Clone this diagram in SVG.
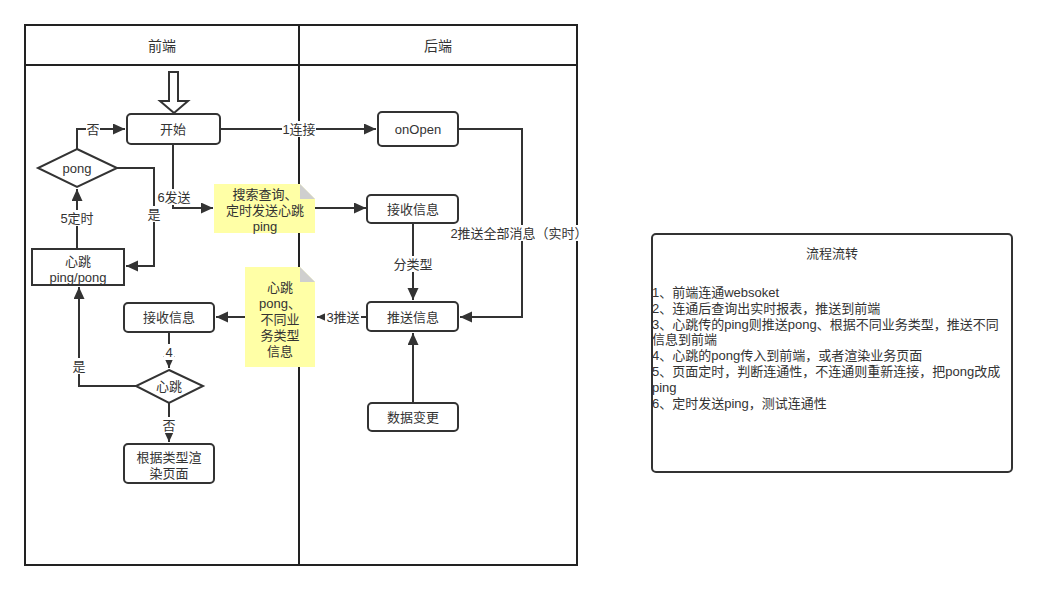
<svg xmlns="http://www.w3.org/2000/svg" width="1037" height="590" viewBox="0 0 1037 590">
<defs>
<style>
text{font-family:"Liberation Sans","Noto Sans CJK SC",sans-serif;font-size:13px;fill:#333;}
.c{text-anchor:middle;dominant-baseline:central;}
.node{fill:#fff;stroke:#333;stroke-width:2;}
.note{fill:#ffffa6;stroke:none;}
.fold{fill:#cfcfcf;}
.edge{fill:none;stroke:#333;stroke-width:2;}
.lane{fill:none;stroke:#222;stroke-width:2;}
.lbl{fill:#fff;}
</style>
<marker id="ah" markerUnits="userSpaceOnUse" markerWidth="14" markerHeight="12" refX="12" refY="5.5" orient="auto">
<path d="M0,0 L12,5.5 L0,11 Z" fill="#333"/>
</marker>
</defs>

<g id="swimlane">
<rect class="lane" x="25" y="25" width="552" height="540"/>
<line class="lane" x1="25" y1="65" x2="577" y2="65"/>
<line class="lane" x1="299" y1="25" x2="299" y2="565"/>
<text class="c" x="162" y="46" style="font-size:14px">前端</text>
<text class="c" x="438" y="46" style="font-size:14px">后端</text>
</g>

<g id="connectors">
<path class="edge" d="M220,129 L376,129" marker-end="url(#ah)"/>
<path class="edge" d="M77,149 L77,129 L125,129" marker-end="url(#ah)"/>
<path class="edge" d="M77,249 L77,189" marker-end="url(#ah)"/>
<path class="edge" d="M117,168 L154,168 L154,266 L126,266" marker-end="url(#ah)"/>
<path class="edge" d="M173,144 L173,208 L213,208" marker-end="url(#ah)"/>
<path class="edge" d="M315,208 L366,208" marker-end="url(#ah)"/>
<path class="edge" d="M458,129 L522,129 L522,317 L460,317" marker-end="url(#ah)"/>
<path class="edge" d="M413,223 L413,300" marker-end="url(#ah)"/>
<path class="edge" d="M367,317 L317,317" marker-end="url(#ah)"/>
<path class="edge" d="M245,317 L216,317" marker-end="url(#ah)"/>
<path class="edge" d="M169,332 L169,368" marker-end="url(#ah)"/>
<path class="edge" d="M136,386 L79,386 L79,287" marker-end="url(#ah)"/>
<path class="edge" d="M169,403 L169,442" marker-end="url(#ah)"/>
<path class="edge" d="M413,403 L413,333" marker-end="url(#ah)"/>
<g id="edge-labels">
<rect class="lbl" x="282" y="121" width="34" height="16"/>
<text class="c" x="299" y="129">1连接</text>
<rect class="lbl" x="86" y="121" width="14" height="16"/>
<text class="c" x="93" y="129">否</text>
<rect class="lbl" x="59" y="210" width="36" height="16"/>
<text class="c" x="77" y="218">5定时</text>
<rect class="lbl" x="147" y="206" width="14" height="16"/>
<text class="c" x="154" y="214">是</text>
<rect class="lbl" x="156" y="189" width="36" height="16"/>
<text class="c" x="174" y="197">6发送</text>
<rect class="lbl" x="453" y="225" width="132" height="16"/>
<text class="c" x="519" y="233">2推送全部消息（实时）</text>
<rect class="lbl" x="393" y="256" width="40" height="16"/>
<text class="c" x="413" y="264">分类型</text>
<rect class="lbl" x="325" y="309" width="36" height="16"/>
<text class="c" x="343" y="317">3推送</text>
<rect class="lbl" x="164" y="344" width="10" height="16"/>
<text class="c" x="169" y="352">4</text>
<rect class="lbl" x="72" y="358" width="14" height="16"/>
<text class="c" x="79" y="366">是</text>
<rect class="lbl" x="162" y="417" width="14" height="16"/>
<text class="c" x="169" y="425">否</text>
</g>
</g>

<g id="start-arrow">
<path d="M169,72 L178,72 L178,101 L188,101 L174,113 L160,101 L169,101 Z" fill="#fff" stroke="#333" stroke-width="2"/>
</g>

<g id="node-start">
<rect class="node" x="127" y="114" width="93" height="30" rx="4"/>
<text class="c" x="173" y="129">开始</text>
</g>

<g id="node-pong">
<path class="node" d="M77,149 L117,168 L77,187 L38,168 Z"/>
<text class="c" x="77" y="168">pong</text>
</g>

<g id="node-heartbeat">
<rect class="node" x="32" y="249" width="92" height="36"/>
<text class="c" x="78" y="261">心跳</text>
<text class="c" x="78" y="277">ping/pong</text>
</g>

<g id="note-search">
<path class="note" d="M214,184 L300,184 L315,199 L315,233 L214,233 Z"/>
<path class="fold" d="M300,184 L315,199 L300,199 Z"/>
<text class="c" x="265" y="194">搜索查询、</text>
<text class="c" x="265" y="210">定时发送心跳</text>
<text class="c" x="265" y="226">ping</text>
</g>

<g id="node-onopen">
<rect class="node" x="378" y="112" width="80" height="34" rx="4"/>
<text class="c" x="418" y="129">onOpen</text>
</g>

<g id="node-receive-back">
<rect class="node" x="367" y="195" width="91" height="28" rx="4"/>
<text class="c" x="413" y="209">接收信息</text>
</g>

<g id="node-push">
<rect class="node" x="367" y="302" width="91" height="29" rx="4"/>
<text class="c" x="413" y="317">推送信息</text>
</g>

<g id="node-datachange">
<rect class="node" x="368" y="403" width="90" height="28" rx="4"/>
<text class="c" x="413" y="417">数据变更</text>
</g>

<g id="note-pong">
<path class="note" d="M245,267 L300,267 L315,282 L315,367 L245,367 Z"/>
<path class="fold" d="M300,267 L315,282 L300,282 Z"/>
<text class="c" x="280" y="287">心跳</text>
<text class="c" x="280" y="303">pong、</text>
<text class="c" x="280" y="319">不同业</text>
<text class="c" x="280" y="335">务类型</text>
<text class="c" x="280" y="351">信息</text>
</g>

<g id="node-receive-front">
<rect class="node" x="124" y="303" width="90" height="29" rx="4"/>
<text class="c" x="169" y="317">接收信息</text>
</g>

<g id="node-heart-decision">
<path class="node" d="M169,370 L203,386 L169,403 L136,386 Z"/>
<text class="c" x="169" y="386">心跳</text>
</g>

<g id="node-render">
<rect class="node" x="124" y="444" width="90" height="39" rx="4"/>
<text class="c" x="169" y="457">根据类型渲</text>
<text class="c" x="169" y="473">染页面</text>
</g>

<g id="node-flow">
<rect x="652" y="234" width="360" height="238" rx="4" fill="#fff" stroke="#333" stroke-width="2"/>
<text class="c" x="832" y="253">流程流转</text>
<text x="652" y="297">1、前端连通websoket</text>
<text x="652" y="312.8">2、连通后查询出实时报表，推送到前端</text>
<text x="652" y="328.6">3、心跳传的ping则推送pong、根据不同业务类型，推送不同</text>
<text x="652" y="344.4">信息到前端</text>
<text x="652" y="360.2">4、心跳的pong传入到前端，或者渲染业务页面</text>
<text x="652" y="376">5、页面定时，判断连通性，不连通则重新连接，把pong改成</text>
<text x="652" y="391.8">ping</text>
<text x="652" y="407.6">6、定时发送ping，测试连通性</text>
</g>
</svg>
